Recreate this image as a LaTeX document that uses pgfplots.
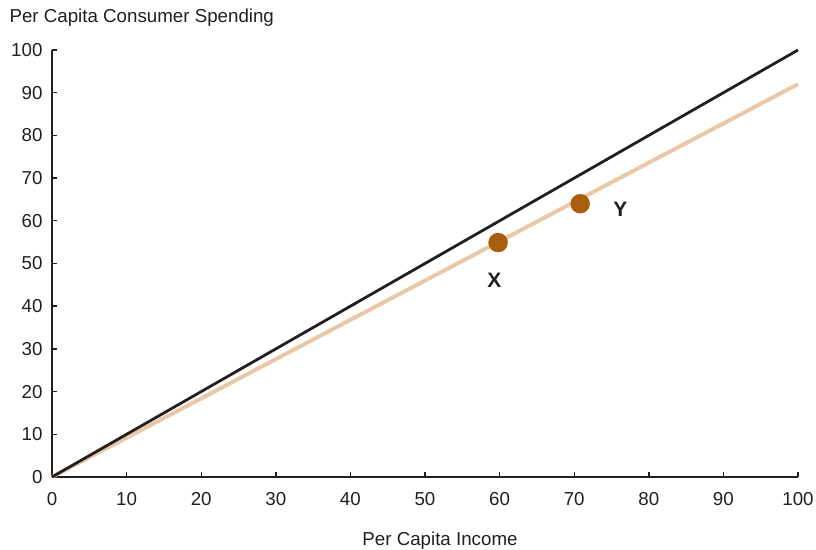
\documentclass[border=0pt]{standalone}
\usepackage{pgfplots}
\pgfplotsset{compat=1.18}
\usepackage{fontspec}
\setmainfont{Liberation Sans}
\definecolor{axk}{RGB}{35,31,32}
\definecolor{tan}{RGB}{232,200,166}
\definecolor{pt}{RGB}{168,94,14}
\begin{document}
\begin{tikzpicture}
\useasboundingbox (-52bp,-73bp) rectangle (764bp,477bp);
\begin{axis}[
  at={(0,0)}, anchor=origin,
  scale only axis, width=746bp, height=427bp,
  xmin=0, xmax=100, ymin=0, ymax=100,
  axis lines*=left,
  axis line style={axk, line width=1.6bp},
  xtick={0,10,...,100}, ytick={0,10,...,100},
  tick style={axk, line width=1.4bp},
  tick align=inside,
  major tick length=5bp,
  ticklabel style={font=\fontsize{18.8}{22}\selectfont, text=axk},
  xticklabel style={yshift=-12bp},
  yticklabel style={xshift=-6bp},
  /pgf/number format/assume math mode=true,
  clip=false,
]
\addplot[tan, line width=4bp] coordinates {(0,0) (100,92)};
\addplot[axk, line width=2.8bp] coordinates {(0,0) (100,100)};
\addplot[only marks, mark=*, mark size=9.5bp, mark options={fill=pt, draw=pt}] coordinates {(59.8,54.9) (70.8,64.0)};
\node[font=\fontsize{21}{24}\selectfont\bfseries, text=axk] at (axis cs:59.3,46.0) {X};
\node[font=\fontsize{21}{24}\selectfont\bfseries, text=axk] at (axis cs:76.2,62.7) {Y};
\end{axis}
\node[anchor=west, font=\fontsize{18.8}{22}\selectfont, text=axk] at (-46bp,459bp) {Per Capita Consumer Spending};
\node[font=\fontsize{18.8}{22}\selectfont, text=axk] at (388bp,-64bp) {Per Capita Income};
\end{tikzpicture}
\end{document}
